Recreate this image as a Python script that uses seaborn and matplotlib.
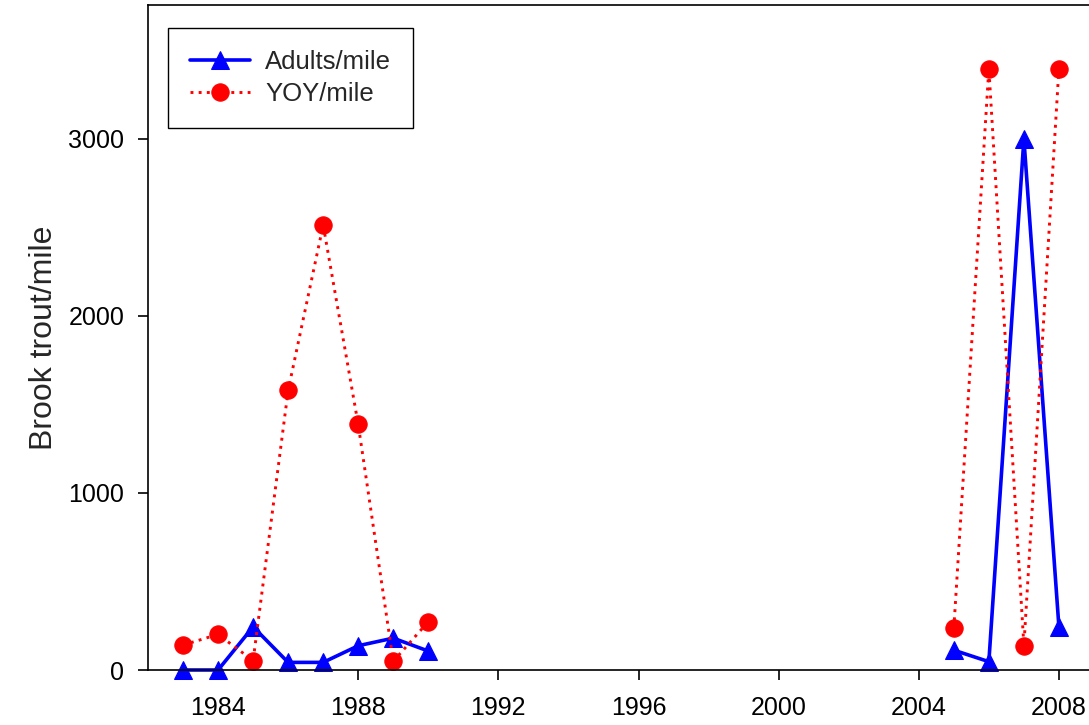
import pandas as pd
import seaborn as sns
import matplotlib
matplotlib.use('Agg')
import matplotlib.pyplot as plt

# Survey years (gap between the two sampling periods)
years = [1983, 1984, 1985, 1986, 1987, 1988, 1989, 1990,
         2005, 2006, 2007, 2008]
period = ['early'] * 8 + ['late'] * 4

# Values (fish per mile)
adults_per_mile = [0, 0, 244, 43, 43, 137, 180, 107,
                   112, 47, 3000, 243]
yoy_per_mile = [141, 201, 53, 1580, 2514, 1387, 49, 273,
                235, 3398, 138, 3398]

df = pd.DataFrame({'year': years, 'period': period,
                   'adults': adults_per_mile, 'yoy': yoy_per_mile})

sns.set_style('ticks')
plt.rcParams['font.family'] = ['Liberation Sans', 'DejaVu Sans']

fig = plt.figure(figsize=(10.89, 7.25), dpi=100)
ax = fig.add_axes([148 / 1089, 55 / 725, 981 / 1089, 665 / 725])

sns.lineplot(data=df, x='year', y='adults', units='period', estimator=None,
             color='#0000ff', lw=2.6, marker='^', markersize=13.5,
             markeredgecolor='#0000ff', label='Adults/mile',
             clip_on=False, ax=ax, legend=False)
sns.lineplot(data=df, x='year', y='yoy', units='period', estimator=None,
             color='#ff0000', lw=2.1, linestyle=(0, (1, 1.8)), marker='o',
             markersize=12.5, markeredgecolor='#ff0000', label='YOY/mile',
             clip_on=False, ax=ax, legend=False)

ax.set_xlim(1982, 2010)
ax.set_ylim(0, 3757)
ax.set_xticks(range(1984, 2009, 4))
ax.set_yticks([0, 1000, 2000, 3000])
ax.set_xlabel('')
ax.set_ylabel('Brook trout/mile', fontsize=23, labelpad=7)
ax.tick_params(axis='both', labelsize=18, length=7, width=1.2,
               direction='out', colors='black')
ax.tick_params(axis='x', pad=12)
ax.tick_params(axis='y', pad=10)
for sp in ax.spines.values():
    sp.set_linewidth(1.2)
    sp.set_color('black')

# one legend entry per series
handles, labels = ax.get_legend_handles_labels()
uniq = dict(zip(labels, handles))
leg = ax.legend(uniq.values(), uniq.keys(), loc='upper left',
                bbox_to_anchor=(0.0204, 0.965), borderaxespad=0,
                fontsize=18.5, handlelength=2.36, fancybox=False,
                framealpha=1, edgecolor='black', borderpad=0.85,
                labelspacing=0.3, handletextpad=0.58)
leg.get_frame().set_linewidth(1.0)

fig.savefig('out.png', dpi=100)
